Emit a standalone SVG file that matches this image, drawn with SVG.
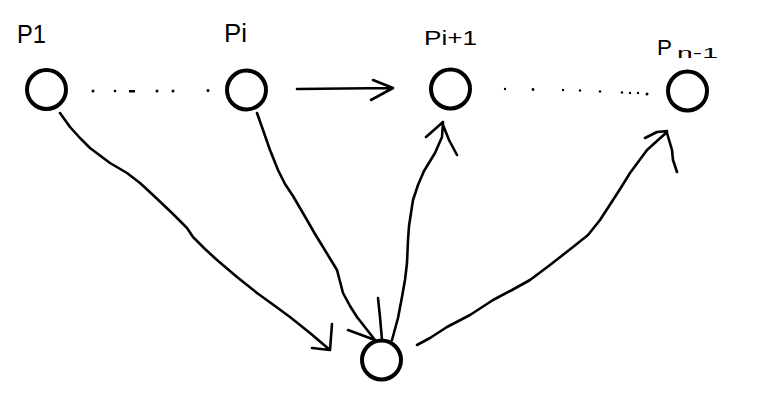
<svg xmlns="http://www.w3.org/2000/svg" width="774" height="409" viewBox="0 0 774 409">
<style>
.node{fill:none;stroke:#000;stroke-width:4}
.lbl{font-family:"Liberation Sans","DejaVu Sans",sans-serif;fill:#000}
.edge{fill:none;stroke:#000;stroke-width:2.6;stroke-linecap:round;stroke-linejoin:round}
.dot{fill:#000}
</style>
<rect width="774" height="409" fill="#fff"/>
<g id="node-p1">
<circle class="node" cx="46.5" cy="89.5" r="19.5"/>
<text class="lbl" x="17" y="43" font-size="26" textLength="29" lengthAdjust="spacingAndGlyphs">P1</text>
</g>
<g id="node-pi">
<circle class="node" cx="246.5" cy="90" r="19.5"/>
<text class="lbl" x="224" y="42" font-size="26" textLength="23" lengthAdjust="spacingAndGlyphs">Pi</text>
</g>
<g id="node-pi1">
<circle class="node" cx="450.5" cy="89" r="19.5"/>
<text class="lbl" x="424" y="45" font-size="21" textLength="53" lengthAdjust="spacingAndGlyphs">Pi+1</text>
</g>
<g id="node-pn1">
<circle class="node" cx="687.5" cy="91" r="19.5"/>
<text class="lbl" x="657" y="55" font-size="22" textLength="15" lengthAdjust="spacingAndGlyphs">P</text>
<text class="lbl" x="677" y="58" font-size="15" textLength="41" lengthAdjust="spacingAndGlyphs">n-1</text>
</g>
<g id="node-center">
<circle class="node" cx="381.5" cy="360" r="19.5"/>
</g>
<g id="connectors">
<g id="dots-left">
<circle class="dot" cx="93" cy="91" r="1.5"/>
<circle class="dot" cx="115" cy="91" r="1.3"/>
<rect class="dot" x="129" y="90" width="6" height="2.5"/>
<circle class="dot" cx="157" cy="91" r="1.5"/>
<circle class="dot" cx="173" cy="91" r="1.5"/>
<circle class="dot" cx="208" cy="90.5" r="1.5"/>
</g>
<g id="dots-right">
<circle class="dot" cx="505" cy="89" r="1.2"/>
<circle class="dot" cx="533" cy="89.5" r="1.4"/>
<circle class="dot" cx="563" cy="90" r="1.2"/>
<circle class="dot" cx="580" cy="90.5" r="1.2"/>
<circle class="dot" cx="600" cy="91.5" r="1.2"/>
<circle class="dot" cx="622" cy="92.5" r="1.2"/>
<circle class="dot" cx="630" cy="93" r="1.2"/>
<circle class="dot" cx="638" cy="93" r="1.2"/>
<circle class="dot" cx="647" cy="94" r="1.5"/>
</g>
<path class="edge" d="M297 89 L392 88 M373 80 L393 88 L371 100"/>
<path class="edge" d="M60 113 L70 127 L80 138 L90 148 L110 163 L127 173 L140 183 L153 195 L172 213 L187 228 L193 237 L205 249 L217 260 L237 277 L257 293 L275 306 L290 317 L310 333 L330 350 M312 348 L330 350 L332 324"/>
<path class="edge" d="M257 113 L263 130 L270 150 L278 170 L285 184 L293 196 L307 220 L315 234 L323 247 L337 270 L343 293 L350 306 L357 317 L375 340 M348 330 L375 340 M378 298 L380 317 L382 340"/>
<path class="edge" d="M392 340 L398 318 L402 297 L405 280 L407 263 L408 240 L409 226 L413 200 L418 185 L424 171 L435 153 L442 137 L443 122 M426 137 L443 122 M443 125 L449 140 L457 155"/>
<path class="edge" d="M417 345 L430 338 L447 327 L470 315 L493 300 L512 290 L530 280 L550 265 L573 247 L588 235 L600 220 L613 200 L622 186 L630 173 L647 150 L667 132 M645 138 L657 132 L667 131 M667 133 L672 150 L673 160 L677 172"/>
</g>
</svg>
